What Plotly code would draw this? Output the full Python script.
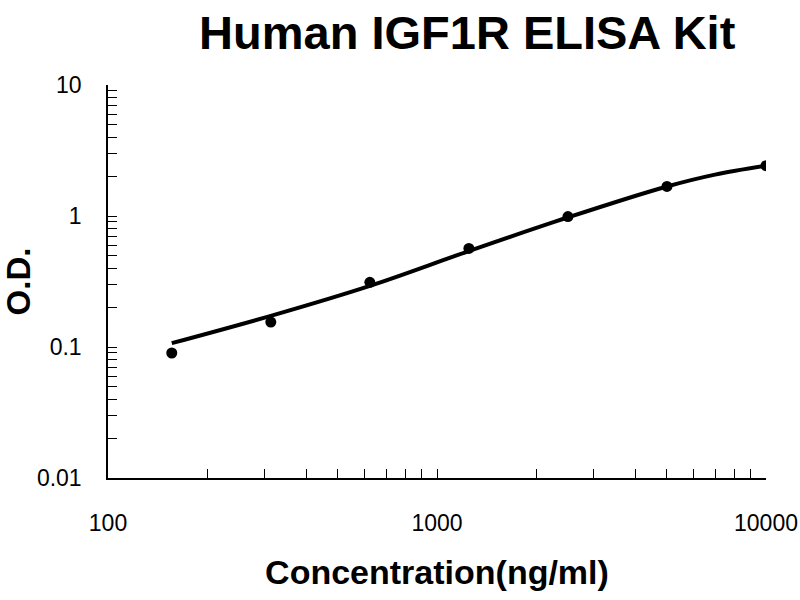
import plotly.graph_objects as go

# standard points (ng/ml vs O.D.)
conc = [156.25, 312.5, 625, 1250, 2500, 5000, 10000]
od = [0.090, 0.155, 0.312, 0.565, 0.99, 1.68, 2.42]

# fitted curve
curve_conc = [156.25, 312.5, 625, 1250, 2500, 5000, 7000, 10000]
curve_od = [0.107, 0.173, 0.293, 0.54, 0.975, 1.68, 2.07, 2.42]

x_ticks = [100, 1000, 10000]
x_labels = ["100", "1000", "10000"]
y_ticks = [0.01, 0.1, 1, 10]
y_labels = ["0.01", "0.1", "1", "10"]

fig = go.Figure()

fig.add_trace(go.Scatter(x=curve_conc, y=curve_od,
                         mode='lines',
                         line=dict(color='black', width=4, shape='spline'),
                         showlegend=False))

fig.add_trace(go.Scatter(x=conc, y=od,
                         mode='markers',
                         marker=dict(color='black', size=11),
                         showlegend=False))

font = "Liberation Sans, Arial, sans-serif"

fig.update_layout(
    width=800, height=600,
    margin=dict(l=108, r=34, t=85, b=122),
    plot_bgcolor='white', paper_bgcolor='white',
    font=dict(family=font, color='black'),
    title=dict(text="<b>Human IGF1R ELISA Kit</b>",
               font=dict(size=47, color='black'),
               x=0.584, xanchor='center',
               y=1 - 33 / 600, yref='container', yanchor='middle'),
)

fig.update_xaxes(
    type='log', range=[2, 4], automargin=False,
    tickvals=x_ticks, ticktext=x_labels,
    tickfont=dict(size=23),
    ticklabelstandoff=24,
    ticklabeloverflow='allow',
    showline=True, linecolor='black', linewidth=1.5,
    ticks='inside', ticklen=9, tickwidth=1.2, tickcolor='black',
    minor=dict(ticks='inside', ticklen=9, tickwidth=1.2, tickcolor='black',
               dtick='D1', showgrid=False),
    showgrid=False, zeroline=False,
    title=dict(text="<b>Concentration(ng/ml)</b>", font=dict(size=34),
               standoff=25),
)

fig.update_yaxes(
    type='log', range=[-2, 1], automargin=False,
    tickvals=y_ticks, ticktext=y_labels,
    tickfont=dict(size=23),
    ticklabelstandoff=20,
    showline=True, linecolor='black', linewidth=1.5,
    ticks='inside', ticklen=9, tickwidth=1.2, tickcolor='black',
    minor=dict(ticks='inside', ticklen=9, tickwidth=1.2, tickcolor='black',
               dtick='D1', showgrid=False),
    showgrid=False, zeroline=False,
    title=dict(text="<b>O.D.</b>", font=dict(size=33), standoff=4),
)

# drop the page's default body margin so the 800x600 figure fills the window
fig.write_html("out.html", config={'displayModeBar': False},
               post_script="document.body.style.margin='0';")
